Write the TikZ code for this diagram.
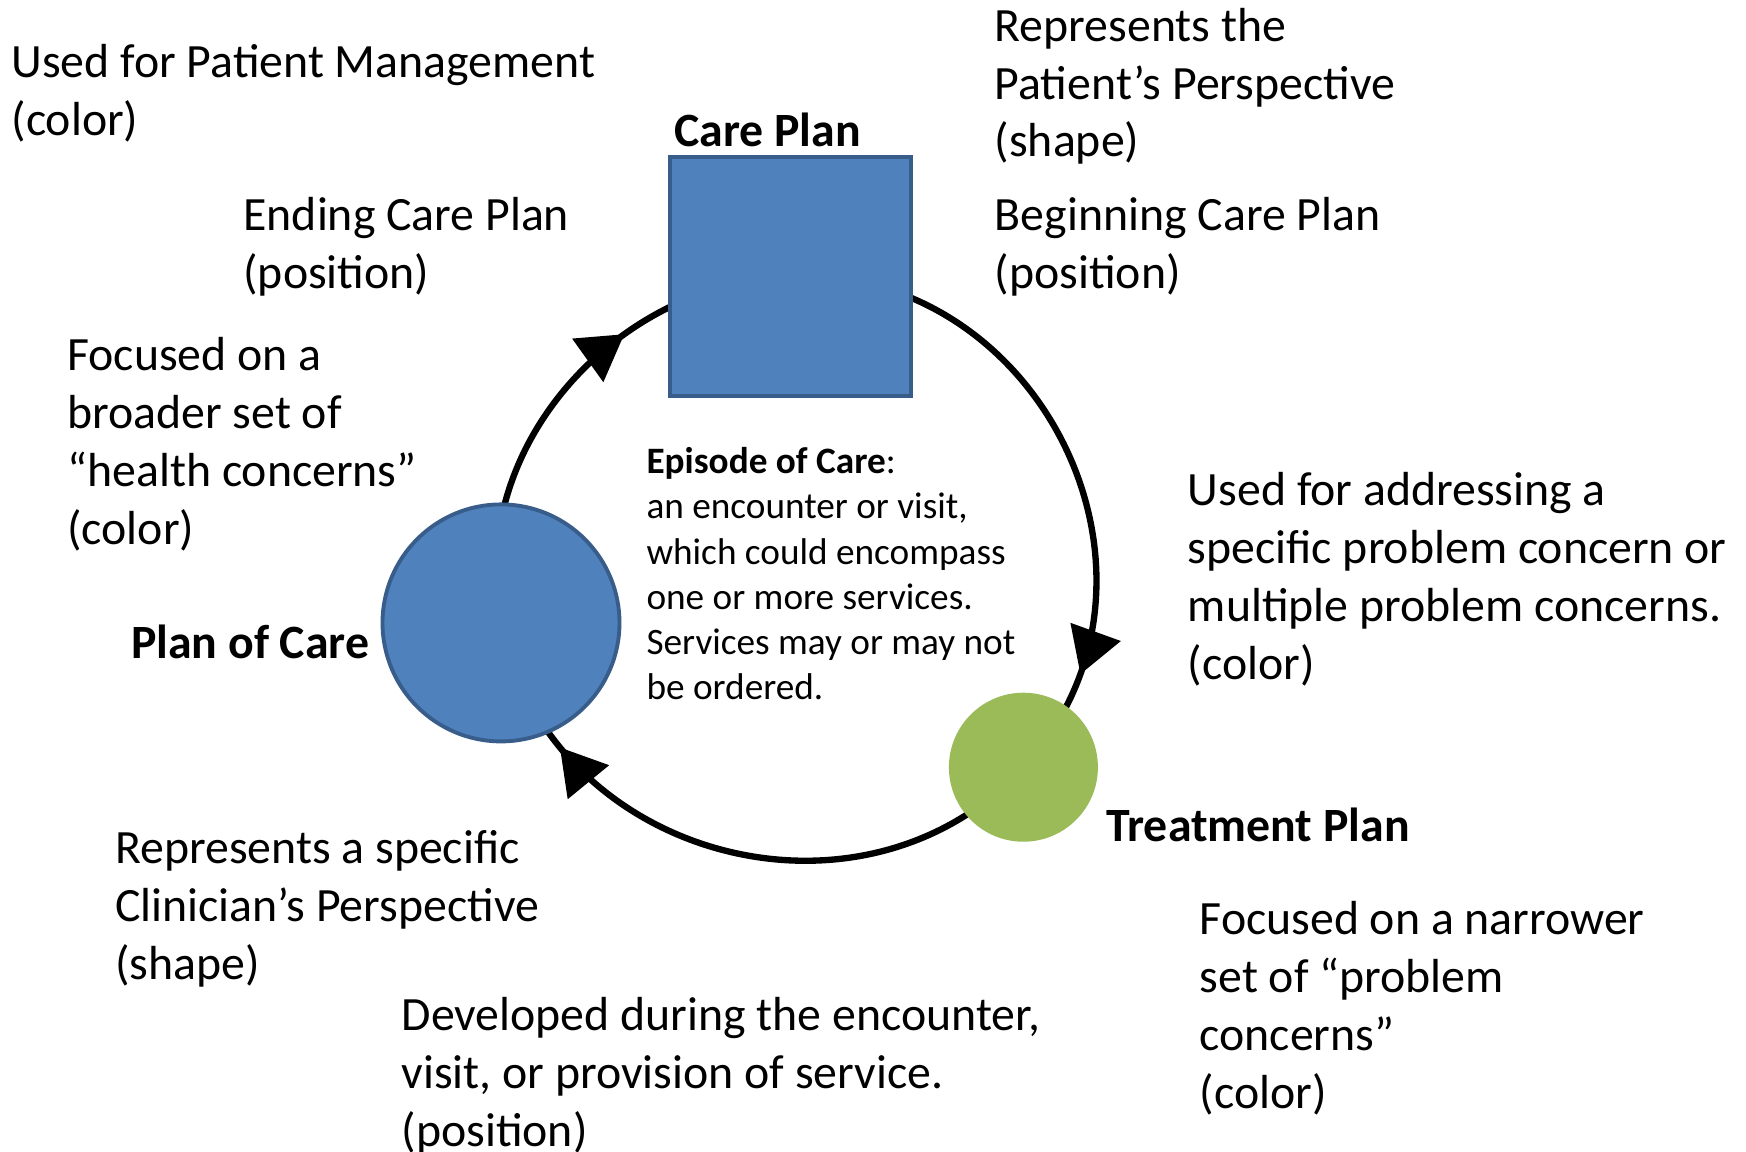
\documentclass[tikz,border=0pt]{standalone}
\usepackage{fontspec}
\setmainfont{Carlito}
\usetikzlibrary{arrows.meta,decorations.markings}
\pgfdeclarelayer{background}
\pgfsetlayers{background,main}
\definecolor{careblue}{HTML}{4F81BD}
\definecolor{careedge}{HTML}{385D8A}
\definecolor{treatgreen}{HTML}{9BBB59}

\begin{document}
\begin{tikzpicture}[x=0.1mm, y=0.1mm,
    flow mark/.style={postaction={decorate}, decoration={markings,
        mark=at position #1 with {\arrow{Triangle[length=4.5mm, width=5.2mm]}}}}]
    \tikzstyle{plan square} = [rectangle, draw=careedge, fill=careblue, line width=1.1pt, inner sep=0pt, minimum width=24.1mm, minimum height=23.9mm]
    \tikzstyle{plan circle} = [circle, draw=careedge, fill=careblue, line width=1.1pt, inner sep=0pt, minimum size=23.7mm]
    \tikzstyle{treat circle} = [circle, fill=treatgreen, inner sep=0pt, minimum size=14.9mm]
    \tikzstyle{cycle edge} = [draw=black, line width=1.8pt]
    \tikzstyle{note text} = [anchor=base west, align=left, inner sep=0pt, font=\fontsize{13.6}{16.5}\selectfont]
    \tikzstyle{plan label} = [note text, font=\fontsize{13.6}{16.5}\selectfont\bfseries]
    \tikzstyle{episode text} = [note text, font=\fontsize{10.6}{12.86}\selectfont]
\useasboundingbox (0,0) rectangle (1746,-1151);
\node[plan square] (cp) at (790.6,-276.1) {};
\node[plan circle] (poc) at (501.0,-622.9) {};
\node[treat circle] (tp) at (1023.4,-767.2) {};
\begin{pgfonlayer}{background}
\draw[cycle edge, flow mark=0.65] (poc.center) to[out=101.4, in=182.2, looseness=1.0] (cp.center);
\draw[cycle edge, flow mark=0.84] (cp.center) to[out=2.2, in=47.2, looseness=1.19] (tp.center);
\draw[cycle edge, flow mark=0.79] (tp.center) to[out=227.2, in=281.4, looseness=1.13] (poc.center);
\end{pgfonlayer}
\node[plan label] (cplabel) at (673.7,-147) {Care Plan};
\node[plan label] (poclabel) at (130.4,-658) {Plan of Care};
\node[plan label] (tplabel) at (1105.6,-841.2) {Treatment Plan};
\node[note text] (mgmt) at (10.9,-135) {Used for Patient Management\\(color)};
\node[note text] (patient) at (994.1,-157) {Represents the\\Patient’s Perspective\\(shape)};
\node[note text] (ending) at (242.8,-288.3) {Ending Care Plan\\(position)};
\node[note text] (beginning) at (994.1,-288.3) {Beginning Care Plan\\(position)};
\node[note text] (broader) at (66.7,-544.4) {Focused on a\\broader set of\\“health concerns”\\(color)};
\node[note text] (specific) at (1187.2,-679.8) {Used for addressing a\\specific problem concern or\\multiple problem concerns.\\(color)};
\node[note text] (clinician) at (114.4,-979) {Represents a specific\\Clinician’s Perspective\\(shape)};
\node[note text] (narrower) at (1199.1,-1108.7) {Focused on a narrower\\set of “problem\\concerns”\\(color)};
\node[note text] (developed) at (401.0,-1146.3) {Developed during the encounter,\\visit, or provision of service.\\(position)};
\node[episode text] (episode) at (645.8,-699.6) {\textbf{Episode of Care}:\\an encounter or visit,\\which could encompass\\one or more services.\\Services may or may not\\be ordered.};
\end{tikzpicture}
\end{document}
